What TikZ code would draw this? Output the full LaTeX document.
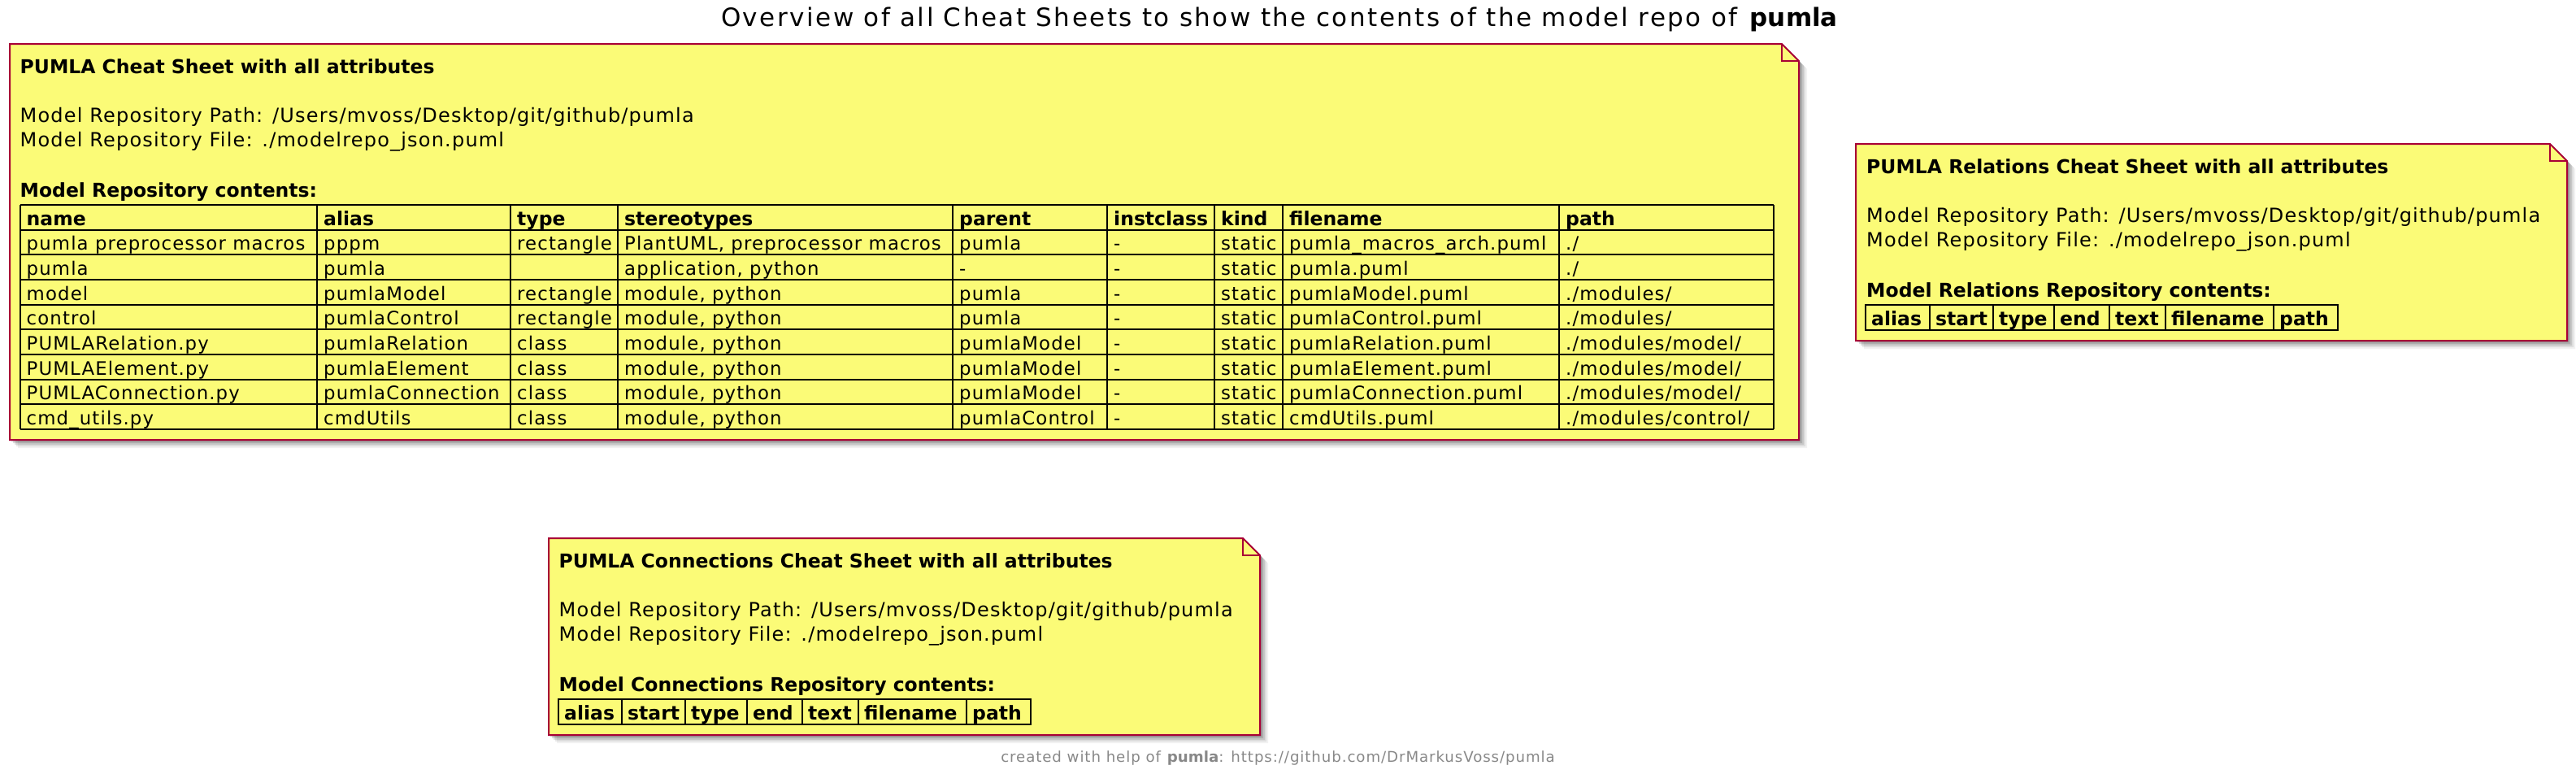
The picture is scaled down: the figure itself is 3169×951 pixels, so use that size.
\documentclass[tikz,border=0pt]{standalone}
\usepackage{fontspec}
\setmainfont{DejaVu Sans}[LetterSpace=5,BoldFeatures={LetterSpace=0}]
\newfontfamily\titlefont{DejaVu Sans}[LetterSpace=8,BoldFeatures={LetterSpace=0}]
\definecolor{notefill}{HTML}{FBFB77}
\definecolor{noteborder}{HTML}{A80036}
\definecolor{footgray}{HTML}{888888}
\tikzset{
  notebody/.style={fill=notefill, draw=noteborder, line width=2bp, line join=miter},
  txt/.style={anchor=base west, inner sep=0pt, font=\fontsize{24bp}{28bp}\selectfont},
  celltxt/.style={anchor=base west, inner sep=0pt, font=\fontsize{22.8bp}{28bp}\selectfont},
  btxt/.style={anchor=base west, inner sep=0pt, font=\fontsize{23.5bp}{28bp}\selectfont\bfseries},
  gridline/.style={draw=black, line width=2bp},
}
\newcommand\notebox[4]{%
  \foreach \d/\o in {2/0.15,4/0.13,6/0.11,8/0.08,10/0.05}{
    \fill[black,opacity=\o,shift={(\d,\d)}] (#1,#2) -- (#3-21,#2) -- (#3,#2+21) -- (#3,#4) -- (#1,#4) -- cycle;
  }
  \draw[notebody] (#1,#2) -- (#3-21,#2) -- (#3,#2+21) -- (#3,#4) -- (#1,#4) -- cycle;
  \draw[notebody, fill=none] (#3-21,#2) -- (#3-21,#2+21) -- (#3,#2+21);
}
\newcommand\notetext[5]{%
  \node[btxt] (#1-title) at (#2,#3+36) {#4};
  \node[txt] (#1-path) at (#2,#3+96) {Model Repository Path: /Users/mvoss/Desktop/git/github/pumla};
  \node[txt] (#1-file) at (#2,#3+126) {Model Repository File: ./modelrepo\_json.puml};
  \node[btxt] (#1-head) at (#2,#3+188) {#5};
}
\newcounter{tr}
\newcommand\tabrow[9]{%
  \pgfmathsetmacro\by{252+30.667*\the\value{tr}+25}%
  \node[celltxt] (r\thetr c1) at (32.5,\by) {#1};
  \node[celltxt] (r\thetr c2) at (398,\by) {#2};
  \node[celltxt] (r\thetr c3) at (636,\by) {#3};
  \node[celltxt] (r\thetr c4) at (768,\by) {#4};
  \node[celltxt] (r\thetr c5) at (1180,\by) {#5};
  \node[celltxt] (r\thetr c6) at (1370,\by) {#6};
  \node[celltxt] (r\thetr c7) at (1502,\by) {#7};
  \node[celltxt] (r\thetr c8) at (1586,\by) {#8};
  \node[celltxt] (r\thetr c9) at (1926,\by) {#9};
  \stepcounter{tr}%
}
\begin{document}
\begin{tikzpicture}[x=1bp,y=-1bp]
\useasboundingbox (0,0) rectangle (3169,951);
% title
\node[anchor=base, inner sep=0pt, font=\titlefont\fontsize{31bp}{36bp}\selectfont] (title) at (1574,32)
  {Overview of all Cheat Sheets to show the contents of the model repo of \textbf{pumla}};
% note 1
\notebox{12}{54}{2213}{541}
\notetext{n1}{24.5}{54}{PUMLA Cheat Sheet with all attributes}{Model Repository contents:}
\foreach \x in {24.5,390,628,760,1172,1362,1494,1578,1918,2182}
  \draw[gridline] (\x,252) -- (\x,528);
\foreach \i in {0,...,9}
  \draw[gridline] (24.5,252+30.667*\i) -- (2182,252+30.667*\i);
\foreach \x/\t [count=\i] in {32.5/name,398/alias,636/type,768/stereotypes,1180/parent,1370/instclass,1502/kind,1586/filename,1926/path}
  \node[btxt] (hd\i) at (\x,277) {\t};
\setcounter{tr}{1}
\tabrow{pumla preprocessor macros}{pppm}{rectangle}{PlantUML, preprocessor macros}{pumla}{-}{static}{pumla\_macros\_arch.puml}{./}
\tabrow{pumla}{pumla}{}{application, python}{-}{-}{static}{pumla.puml}{./}
\tabrow{model}{pumlaModel}{rectangle}{module, python}{pumla}{-}{static}{pumlaModel.puml}{./modules/}
\tabrow{control}{pumlaControl}{rectangle}{module, python}{pumla}{-}{static}{pumlaControl.puml}{./modules/}
\tabrow{PUMLARelation.py}{pumlaRelation}{class}{module, python}{pumlaModel}{-}{static}{pumlaRelation.puml}{./modules/model/}
\tabrow{PUMLAElement.py}{pumlaElement}{class}{module, python}{pumlaModel}{-}{static}{pumlaElement.puml}{./modules/model/}
\tabrow{PUMLAConnection.py}{pumlaConnection}{class}{module, python}{pumlaModel}{-}{static}{pumlaConnection.puml}{./modules/model/}
\tabrow{cmd\_utils.py}{cmdUtils}{class}{module, python}{pumlaControl}{-}{static}{cmdUtils.puml}{./modules/control/}
% note 2 relations
\notebox{2283}{177}{3158}{419}
\notetext{n2}{2296}{177}{PUMLA Relations Cheat Sheet with all attributes}{Model Relations Repository contents:}
\draw[gridline] (2295,375) rectangle (2876,406);
\foreach \x in {2374,2452,2527,2595,2664,2797}
  \draw[gridline] (\x,375) -- (\x,406);
\foreach \x/\t [count=\i] in {2295/alias,2374/start,2452/type,2527/end,2595/text,2664/filename,2797/path}
  \node[btxt] (rh\i) at (\x+7,400) {\t};
% note 3 connections
\notebox{675}{662}{1550}{904}
\notetext{n3}{687.5}{662}{PUMLA Connections Cheat Sheet with all attributes}{Model Connections Repository contents:}
\draw[gridline] (687,860) rectangle (1268,891);
\foreach \x in {765,843,919,987,1056,1189}
  \draw[gridline] (\x,860) -- (\x,891);
\foreach \x/\t [count=\i] in {687/alias,765/start,843/type,919/end,987/text,1056/filename,1189/path}
  \node[btxt] (ch\i) at (\x+7,885) {\t};
% footer
\node[anchor=base, inner sep=0pt, text=footgray, font=\fontsize{18.2bp}{22bp}\selectfont] (footer) at (1572,937)
  {created with help of \textbf{pumla}: https://github.com/DrMarkusVoss/pumla};
\end{tikzpicture}
\end{document}
